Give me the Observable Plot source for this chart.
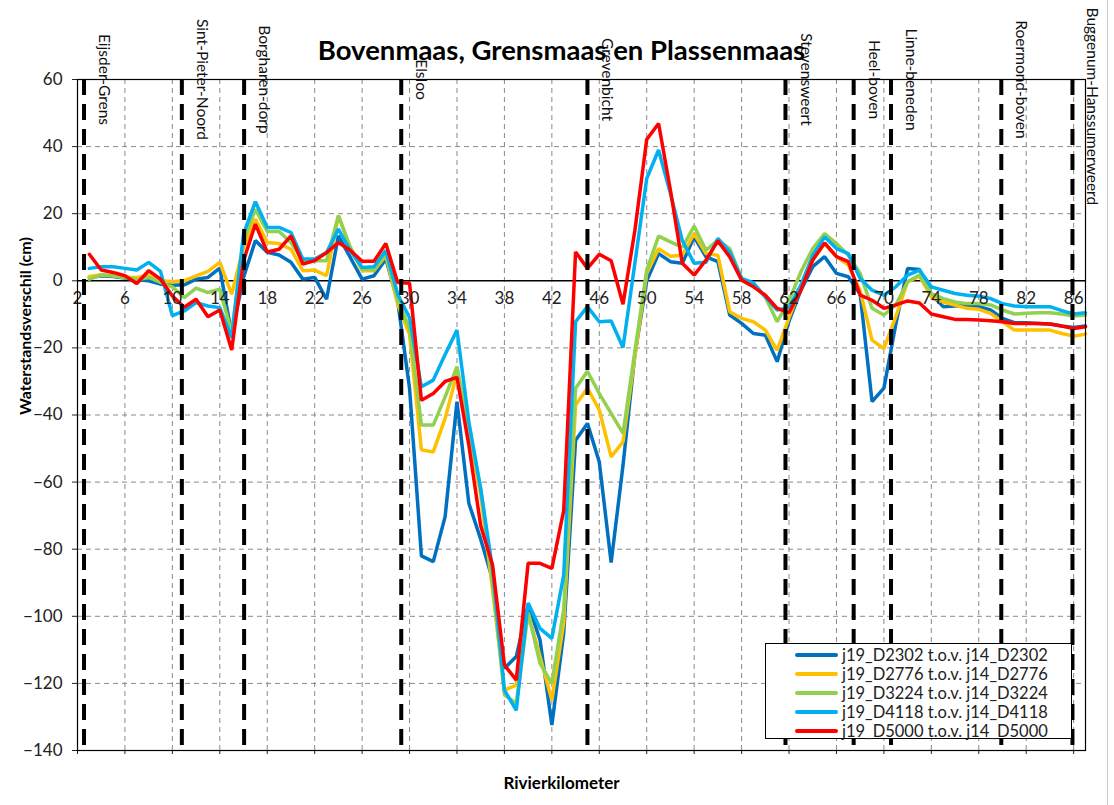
<!DOCTYPE html>
<html>
<head>
<meta charset="utf-8">
<script src="https://cdn.jsdelivr.net/npm/d3@7"></script>
<script src="https://cdn.jsdelivr.net/npm/@observablehq/plot@0.6"></script>
<style>
  html, body { margin: 0; padding: 0; background: #fff; }
  #wrap { position: relative; width: 1114px; height: 805px; font-family: Lato, "Open Sans", sans-serif; }
  #outer { position: absolute; left: 1107px; top: 0; width: 0; height: 805px; border-left: 1.5px solid #c8c8c8; }
  #legend { position: absolute; left: 765px; top: 643px; width: 305px; height: 94px; border: 1.5px solid #000; background: #fff; }
  .row { position: absolute; left: 0; height: 19px; display: flex; align-items: center; font-size: 16.5px; color: #222; }
  .swatch { width: 43px; height: 4px; border-radius: 2px; margin-left: 29px; margin-right: 4px; }
</style>
</head>
<body>
<div id="wrap"><div id="chart"></div><div id="legend"></div><div id="outer"></div></div>
<script>
// River kilometres of the data points
const km = d3.range(3, 88);

const seriesNames = [
  "j19_D2302 t.o.v. j14_D2302",
  "j19_D2776 t.o.v. j14_D2776",
  "j19_D3224 t.o.v. j14_D3224",
  "j19_D4118 t.o.v. j14_D4118",
  "j19_D5000 t.o.v. j14_D5000"
];
const seriesColors = ["#0070C0", "#FFC000", "#92D050", "#00B0F0", "#FF0000"];

// km 3 .. 87
const d2302 = [1, 1.5, 1.3, 0.8, 0.3, 0, -1, -1.3, -1.2, 0.5, 1, 3.8, -16, 1, 12, 8.5, 7.7, 5.5, 0.5, 1,
  -5.5, 13.4, 7, 0.5, 1.5, 6.5, -6, -32, -82, -83.7, -70.3, -36, -66.3, -77, -89, -115.5, -112, -96.6, -107, -132.4,
  -105, -47.5, -42.5, -54, -84, -55, -22, 0, 8.1, 5.7, 5.2, 13.1, 7.1, 5.7, -10.2, -12.7, -15.7, -16.2, -24.1, -12,
  -2.8, 4.2, 7.2, 2.2, 1.2, -4, -36, -32, -13, 3.7, 3.4, -4, -7.7, -7.5, -7.2, -7.7, -8.7, -11.2, -12.5, -12.5,
  -12.7, -12.9, -13.5, -13.9, -13.5];
const d2776 = [1.3, 1.8, 1.5, 1, 1, 1.5, 0, -0.3, 0, 1.5, 2.8, 5.5, -4, 10, 18.4, 11.4, 11.1, 9.4, 3, 3.2,
  1.5, 19.4, 10, 3, 3, 7.5, -7, -16, -50.4, -51, -41, -27.6, -45, -64, -92, -122, -120.5, -99, -112, -125,
  -102, -37, -32, -38.5, -52.5, -48, -22.6, 2.2, 9.6, 7.3, 7.6, 14.1, 8.1, 7.6, -9.2, -11.2, -12.2, -14.7, -20.7, -11,
  -1.8, 6.2, 11.1, 7.2, 4.7, -3, -17.7, -20.2, -10.7, -0.3, 1.4, -4.8, -6.3, -7.2, -8.2, -8.5, -9.7, -12.2, -14.7, -14.7,
  -14.7, -14.7, -15.7, -16.5, -15.9];
const d3224 = [0.5, 1.7, 1.5, 1, 0.3, 1, -0.5, -1.8, -5, -2.2, -3.5, -2.5, -15.4, 12, 21.3, 14.7, 14.7, 11.4, 6, 6,
  6, 19.4, 10, 3.5, 3.2, 8, -6, -14, -43, -43, -34.6, -25.6, -44, -62, -90, -123.4, -126, -99, -114, -120,
  -98, -32, -27, -33.6, -39.5, -45.5, -21, 3.2, 13.3, 11.6, 10, 16.3, 9.1, 12.1, 9.6, 0.7, -1.3, -4.8, -12.2, -6,
  2.7, 9.6, 14.1, 11.1, 7.6, 2.2, -8.2, -10.2, -7.2, -0.3, 1.7, -3.8, -5.3, -6.3, -6.8, -6.8, -7.2, -8.7, -9.9, -9.7,
  -9.5, -9.5, -9.9, -10.5, -10.2];
const d4118 = [3.7, 4.2, 4.2, 3.7, 3.2, 5.5, 2.8, -10.4, -9, -6.5, -7.5, -8, -17, 14, 23.6, 15.9, 15.9, 14.4, 6.5, 6.5,
  8.4, 15.4, 9, 4, 4.2, 9, -4, -11, -31.6, -29.6, -22, -14.7, -42, -62, -86, -122, -128, -96, -103.6, -106.6,
  -87.7, -12.2, -7.7, -12.2, -12, -19.9, 5.2, 30.5, 39, 26, 12, 5.2, 5.5, 12.6, 8.6, 0.7, -0.6, -4.8, -8.7, -8,
  -1.3, 7.6, 13.1, 9.6, 8.1, 0.7, -2.8, -4.3, -1.8, 1.7, 3.2, -1.8, -2.8, -3.8, -4.3, -4.6, -5.3, -6.8, -7.5, -7.7,
  -7.7, -7.7, -8.9, -9.9, -9.5];
const d5000 = [7.9, 3.2, 2.5, 1.5, -0.8, 3, 0.5, -4.5, -7.9, -5.5, -10.7, -8.7, -20.6, 6, 16.9, 8.6, 9.4, 13.4, 5, 6,
  8.4, 11.4, 9.1, 5.8, 5.8, 11.1, -0.5, -0.7, -35.6, -33.6, -30, -28.8, -49, -73, -84.7, -114.5, -119, -84.2, -84.2, -85.7,
  -68.5, 8.6, 3.7, 7.9, 6, -7, 15, 42.1, 46.9, 27, 5.2, 1.7, 6.2, 11.9, 7.1, 0.2, -1.8, -4.3, -8.2, -9.5,
  -2.8, 6.2, 11.3, 7.2, 5.7, -4.3, -5.8, -8.2, -7.2, -6, -6.6, -9.9, -10.7, -11.5, -11.5, -11.7, -11.9, -12.2, -12.7, -12.7,
  -12.7, -12.9, -13.5, -14.2, -13.7];

const seriesValues = [d2302, d2776, d3224, d4118, d5000];

// Section boundaries (river km) and their names
const sectionKm = [2.55, 10.8, 16.05, 29.3, 45.0, 61.7, 67.45, 70.6, 79.9, 85.9];
const sectionNames = ["Eijsder-Grens", "Sint-Pieter-Noord", "Borgharen-dorp", "Elsloo", "Grevenbicht",
  "Stevensweert", "Heel-boven", "Linne-beneden", "Roermond-boven", "Buggenum-Hanssumerweerd"];
const sectionLabelY = [60, 60, 60, 60, 60, 60, 60, 60, 60, 52];

const xTicks = d3.range(2, 87, 4);        // 2, 6, ..., 86
const yTicks = d3.range(-140, 61, 20);    // -140 .. 60

const rows = [];
seriesValues.forEach((vals, s) => vals.forEach((v, i) => rows.push({km: km[i], v, series: seriesNames[s]})));
const sections = sectionKm.map((k, i) => ({km: k, name: sectionNames[i], ly: sectionLabelY[i]}));

const chart = Plot.plot({
  width: 1114,
  height: 805,
  marginLeft: 77,
  marginRight: 29,
  marginTop: 79,
  marginBottom: 55,
  style: {fontFamily: "Lato, 'Open Sans', sans-serif", fontSize: "17px", color: "#222", background: "transparent"},
  x: {domain: [2, 87], ticks: xTicks, tickSize: 4, tickFormat: () => "", label: null},
  y: {domain: [-140, 60], ticks: yTicks, tickSize: 5, tickPadding: 10, label: null},
  color: {domain: seriesNames, range: seriesColors},
  marks: [
    Plot.ruleY(yTicks.filter(d => d !== 0), {stroke: "#8a8a8a", strokeWidth: 1, strokeDasharray: "5,4"}),
    Plot.ruleX(xTicks.filter(d => d !== 2), {stroke: "#8a8a8a", strokeWidth: 1, strokeDasharray: "5,4"}),
    Plot.ruleY([0], {stroke: "#000", strokeWidth: 1.5}),
    Plot.line(rows, {x: "km", y: "v", stroke: "series", z: "series", strokeWidth: 3.5, strokeLinejoin: "miter"}),
    Plot.ruleX(sections, {x: "km", stroke: "#000", strokeWidth: 4, strokeDasharray: "16,9"}),
    Plot.text(sections, {x: "km", y: "ly", text: "name", rotate: 90, dx: 20, fontSize: 15.5, fill: "#111"}),
    Plot.text(xTicks, {x: d => d, y: () => 0, dy: 18, fontSize: 17, fill: "#222"}),
    Plot.frame({stroke: "#000", strokeWidth: 1.2}),
    Plot.text(["Bovenmaas, Grensmaas en Plassenmaas"], {frameAnchor: "top", dy: -39, dx: -20, fontSize: 27.5, fontWeight: "bold", fill: "#000"}),
    Plot.text(["Waterstandsverschil (cm)"], {frameAnchor: "left", rotate: -90, dx: -52, fontSize: 16, fontWeight: "bold", fill: "#000"}),
    Plot.text(["Rivierkilometer"], {frameAnchor: "bottom", dy: 38, dx: -20, fontSize: 17, fontWeight: "bold", fill: "#000"})
  ]
});
document.getElementById("chart").appendChild(chart);

const legend = document.getElementById("legend");
seriesNames.forEach((name, i) => {
  const row = document.createElement("div");
  row.className = "row";
  row.style.top = (1 + i * 19) + "px";
  const sw = document.createElement("div");
  sw.className = "swatch";
  sw.style.background = seriesColors[i];
  const t = document.createElement("span");
  t.textContent = name;
  row.appendChild(sw);
  row.appendChild(t);
  legend.appendChild(row);
});
</script>
</body>
</html>
